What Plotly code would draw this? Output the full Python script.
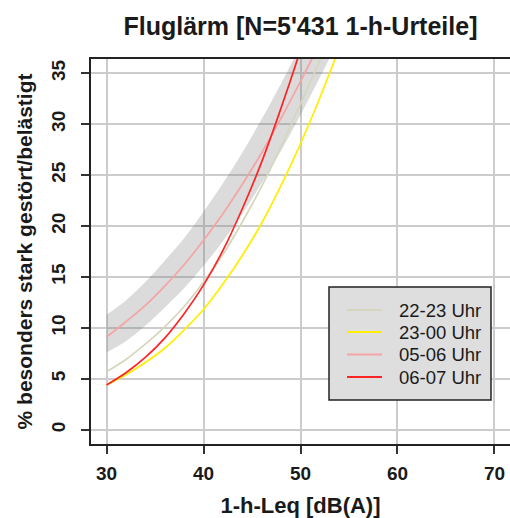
import plotly.graph_objects as go

# Exposure levels (1-h Leq, dB(A)) at which the curves are tabulated
leq_db = [30, 32, 34, 36, 38, 40, 42, 44, 46, 48, 50, 52, 54, 56]

# % highly disturbed/annoyed per time slot
hsd_22_23 = [5.7, 6.9, 8.4, 10.1, 12.1, 14.5, 17.2, 20.4, 23.9, 27.8, 32.0, 36.3, 41.0, 45.8]
hsd_23_00 = [4.4, 5.4, 6.6, 8.0, 9.8, 11.8, 14.3, 17.1, 20.3, 24.0, 28.1, 32.6, 37.5, 42.7]
hsd_05_06 = [9.1, 10.6, 12.2, 14.1, 16.2, 18.6, 21.2, 24.1, 27.2, 30.6, 34.2, 38.0, 42.0, 46.1]
hsd_06_07 = [4.4, 5.6, 7.1, 9.0, 11.4, 14.2, 17.6, 21.7, 26.3, 31.6, 37.3, 43.5, 49.8, 56.2]

# Confidence band around the 05-06 Uhr curve
ci_05_06_upper = [11.3, 12.7, 14.5, 16.6, 18.8, 21.4, 24.2, 27.2, 30.5, 34.0, 37.7, 41.6, 45.7, 49.8]
ci_05_06_lower = [7.6, 8.7, 10.2, 12.0, 13.9, 16.1, 18.5, 21.2, 24.2, 27.4, 30.9, 34.6, 38.4, 42.4]

series_names = ["22-23 Uhr", "23-00 Uhr", "05-06 Uhr", "06-07 Uhr"]
series_values = [hsd_22_23, hsd_23_00, hsd_05_06, hsd_06_07]
series_colors = ["#D6D6BE", "#FFEE00", "#F4A4A4", "#FF2424"]

x_ticks = [30, 40, 50, 60, 70]
y_ticks = [0, 5, 10, 15, 20, 25, 30, 35]

FONT = "Liberation Sans, Arial, Helvetica, sans-serif"
INK = "#1a1a1a"

# plot-area geometry in pixels (figure 510 x 518)
L, R, T, B = 91, 510, 59, 444


def px_x(p):
    return (p - L) / (R - L)


def px_y(p):
    return (B - p) / (B - T)


fig = go.Figure()

fig.add_trace(go.Scatter(
    x=leq_db, y=ci_05_06_lower, mode="lines", line=dict(width=0, shape="spline"),
    showlegend=False, hoverinfo="skip"))
fig.add_trace(go.Scatter(
    x=leq_db, y=ci_05_06_upper, mode="lines", line=dict(width=0, shape="spline"),
    fill="tonexty", fillcolor="rgba(110,110,110,0.25)",
    showlegend=False, hoverinfo="skip"))

for name, vals, col in zip(series_names, series_values, series_colors):
    fig.add_trace(go.Scatter(
        x=leq_db, y=vals, mode="lines", name=name,
        line=dict(color=col, width=1.7, shape="spline"),
        showlegend=False))

# legend box drawn as shapes + text
shapes = [dict(type="rect", xref="paper", yref="paper",
               x0=px_x(329), x1=px_x(491), y0=px_y(400), y1=px_y(287),
               fillcolor="#DEDEDE", line=dict(color="#222222", width=1.5),
               layer="above")]
annotations = []
row_y = [310, 332, 354.5, 377]
for name, col, yy in zip(series_names, series_colors, row_y):
    shapes.append(dict(type="line", xref="paper", yref="paper",
                       x0=px_x(347), x1=px_x(382), y0=px_y(yy), y1=px_y(yy),
                       line=dict(color=col, width=1.8), layer="above"))
    annotations.append(dict(xref="paper", yref="paper", x=px_x(397), y=px_y(yy),
                            text=name, showarrow=False, xanchor="left", yanchor="middle",
                            font=dict(family=FONT, size=18.5, color=INK)))

fig.update_layout(
    width=510, height=518,
    margin=dict(l=L, r=510 - R, t=T, b=518 - B, autoexpand=False),
    paper_bgcolor="white", plot_bgcolor="white",
    title=dict(text="<b>Fluglärm [N=5'431 1-h-Urteile]</b>",
               x=0.5, xref="paper", xanchor="center",
               y=1 - 26 / 518, yref="container", yanchor="middle",
               font=dict(family=FONT, size=25, color=INK)),
    shapes=shapes, annotations=annotations,
    showlegend=False,
)

fig.update_xaxes(
    range=[28.4, 71.6], tickvals=x_ticks, ticks="outside", ticklen=8, tickwidth=1.5,
    tickcolor="#333333", showline=True, linecolor="#222222", linewidth=2, mirror=True,
    showgrid=True, gridcolor="#CCCCCC", gridwidth=1.5, zeroline=False,
    ticklabelstandoff=3,
    tickfont=dict(family=FONT, size=19, color=INK, weight="bold"),
    title=dict(text="<b>1-h-Leq [dB(A)]</b>", standoff=17,
               font=dict(family=FONT, size=22, color=INK)),
    automargin=False,
)
fig.update_yaxes(
    range=[-1.4, 36.4], tickvals=y_ticks, ticks="outside", ticklen=8, tickwidth=1.5,
    tickcolor="#333333", showline=True, linecolor="#222222", linewidth=2, mirror=False,
    showgrid=True, gridcolor="#CCCCCC", gridwidth=1.5, zeroline=False, tickangle=-90,
    ticklabelstandoff=8,
    tickfont=dict(family=FONT, size=19, color=INK, weight="bold"),
    title=dict(text="<b>% besonders stark gestört/belästigt</b>", standoff=10,
               font=dict(family=FONT, size=21, color=INK)),
    automargin=False,
)

fig.write_html("out.html")
